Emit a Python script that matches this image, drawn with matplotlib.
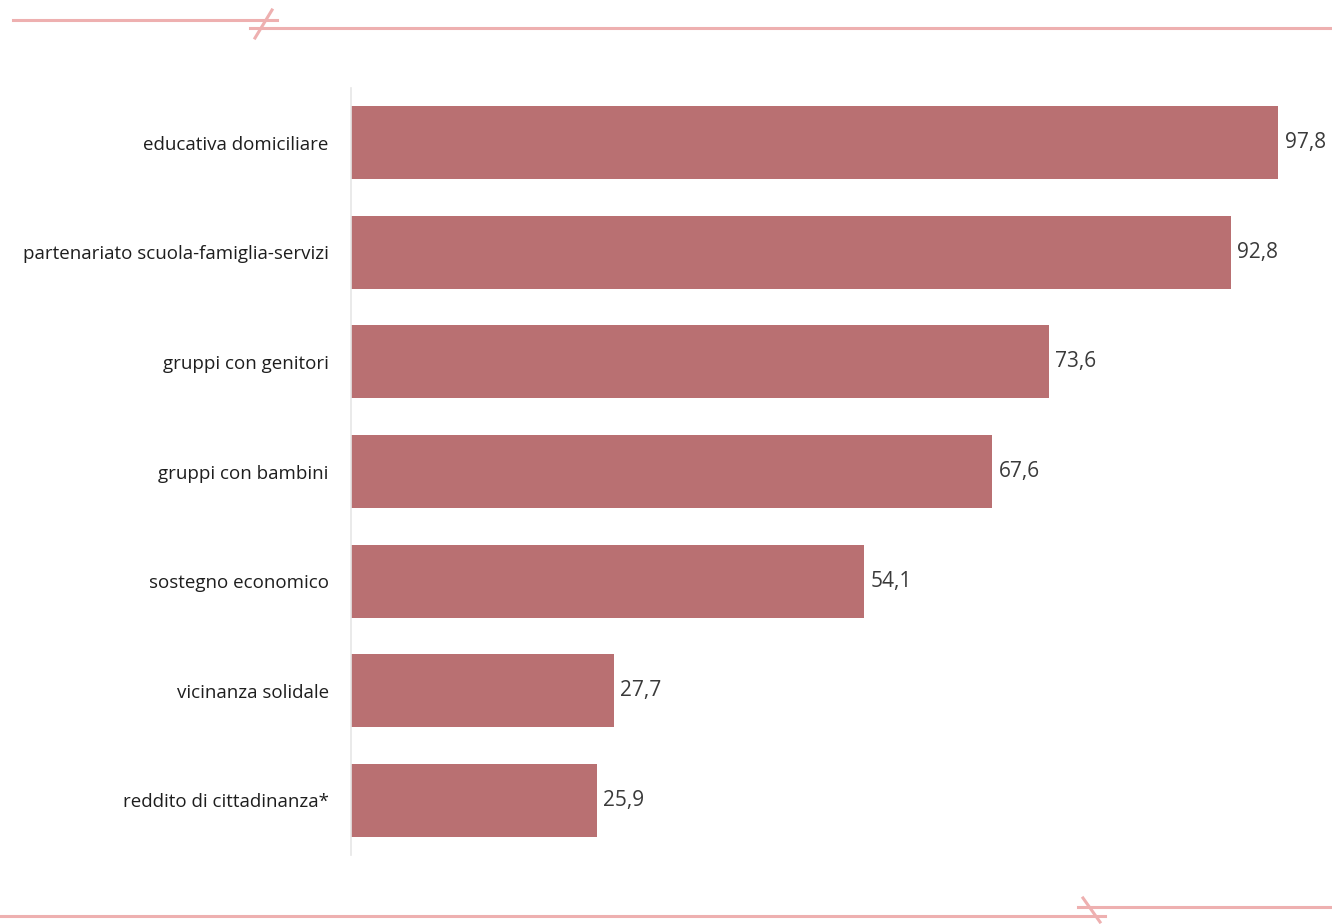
import matplotlib.pyplot as plt
from matplotlib.lines import Line2D

categories = ['educativa domiciliare', 'partenariato scuola-famiglia-servizi',
              'gruppi con genitori', 'gruppi con bambini', 'sostegno economico',
              'vicinanza solidale', 'reddito di cittadinanza*']
values = [97.8, 92.8, 73.6, 67.6, 54.1, 27.7, 25.9]
value_labels = ['97,8', '92,8', '73,6', '67,6', '54,1', '27,7', '25,9']

plt.rcParams['font.family'] = ['Open Sans', 'DejaVu Sans']

W, H = 1332, 924
fig = plt.figure(figsize=(W / 100, H / 100), dpi=100)
ax = fig.add_axes([351 / W, 69 / H, 948 / W, 767 / H])

bar_color = '#b97072'
ypos = list(range(len(categories)))
ax.barh(ypos, values, height=0.665, color=bar_color)
for y, v, lab in zip(ypos, values, value_labels):
    ax.text(v + 0.7, y, lab, va='center', ha='left', fontsize=15,
            color='#3a3a3a', clip_on=False)

ax.set_xlim(0, 100)
ax.set_ylim(6.5, -0.5)
ax.set_yticks(ypos)
ax.set_yticklabels(categories, fontsize=13.5, color='#1e1e1e')
ax.tick_params(axis='y', length=0, pad=16)
ax.set_xticks([])
for s in ['top', 'right', 'bottom']:
    ax.spines[s].set_visible(False)
ax.spines['left'].set_color('#e6e6e6')
ax.spines['left'].set_linewidth(1.2)

# decorative break lines top and bottom
lc = '#eeb0b0'
def fl(x0, y0, x1, y1):
    fig.add_artist(Line2D([x0 / W, x1 / W], [1 - y0 / H, 1 - y1 / H],
                          color=lc, lw=2.2, transform=fig.transFigure))

fl(13, 20, 277, 20)
fl(250, 28, 1332, 28)
fl(255, 38, 272, 10)
fl(0, 916, 1105, 916)
fl(1078, 907, 1332, 907)
fl(1083, 898, 1100, 922)

fig.savefig('out.png', dpi=100)
